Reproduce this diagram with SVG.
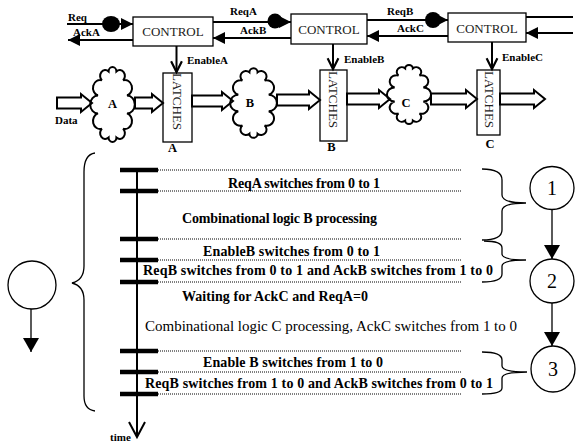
<svg xmlns="http://www.w3.org/2000/svg" width="577" height="448" viewBox="0 0 577 448">
<style>
.ln{stroke:#000;stroke-width:2;fill:none}
.thin{stroke:#000;stroke-width:1.3;fill:none}
.box{fill:#fff;stroke:#000;stroke-width:1.3}
.fat{fill:none;stroke:#000;stroke-width:2;stroke-linejoin:miter}
.bar{stroke:#000;stroke-width:4.5}
.dot{stroke:#000;stroke-width:1;stroke-dasharray:1 1;fill:none}
.lbl{font-family:"Liberation Serif","Times New Roman",serif;font-weight:bold;font-size:11px;fill:#000}
.big{font-family:"Liberation Serif","Times New Roman",serif;font-weight:bold;font-size:12.5px;fill:#000}
.ctl{font-family:"Liberation Serif","Times New Roman",serif;font-size:13px;fill:#222}
.t{font-family:"Liberation Serif","Times New Roman",serif;font-weight:bold;font-size:14px;fill:#000}
.tr{font-family:"Liberation Serif","Times New Roman",serif;font-size:15px;fill:#000}
.num{font-family:"Liberation Serif","Times New Roman",serif;font-size:20px;fill:#000;text-anchor:middle}
.cl{fill:none;stroke:#000;stroke-width:2}
</style>
<defs>
<marker id="tri" markerUnits="userSpaceOnUse" markerWidth="12" markerHeight="12" viewBox="0 0 11 11" refX="11" refY="5.5" orient="auto"><path d="M0,0 L11,5.5 L0,11 z" fill="#000"/></marker>
<marker id="triB" markerUnits="userSpaceOnUse" markerWidth="16" markerHeight="16" viewBox="0 0 14 16" refX="14" refY="8" orient="auto"><path d="M0,0 L14,8 L0,16 z" fill="#000"/></marker>
<marker id="vee" markerUnits="userSpaceOnUse" markerWidth="14" markerHeight="14" viewBox="-1 -1 13 13" refX="10" refY="5" orient="auto" overflow="visible"><path d="M0,0 L10,5 L0,10" fill="none" stroke="#000" stroke-width="2"/></marker>
<path id="cloud" vector-effect="non-scaling-stroke" d="M14.5,-7.8 A1,1 0 0 1 14.5,7.8 A1,1 0 0 1 10.6,21.2 A1,1 0 0 1 3.9,29 A1,1 0 0 1 -3.9,29 A1,1 0 0 1 -10.6,21.2 A1,1 0 0 1 -14.5,7.8 A1,1 0 0 1 -14.5,-7.8 A1,1 0 0 1 -10.6,-21.2 A1,1 0 0 1 -3.9,-29 A1,1 0 0 1 3.9,-29 A1,1 0 0 1 10.6,-21.2 A1,1 0 0 1 14.5,-7.8 Z"/>
</defs>
<rect width="577" height="448" fill="#fff"/>

<!-- control boxes -->
<g id="control1"><rect class="box" x="133" y="17" width="80" height="29"/><text class="ctl" x="173" y="35.5" text-anchor="middle">CONTROL</text></g>
<g id="control2"><rect class="box" x="291" y="14" width="76" height="30"/><text class="ctl" x="329" y="34" text-anchor="middle">CONTROL</text></g>
<g id="control3"><rect class="box" x="448" y="13" width="78" height="29"/><text class="ctl" x="487" y="32.5" text-anchor="middle">CONTROL</text></g>

<!-- latches -->
<g id="latchA"><rect class="box" x="163" y="73" width="29" height="69"/><text class="ctl" transform="translate(173,73) rotate(90)">LATCHES</text><text class="big" x="172.5" y="152" text-anchor="middle">A</text></g>
<g id="latchB"><rect class="box" x="320" y="70" width="27" height="71"/><text class="ctl" transform="translate(329,71) rotate(90)">LATCHES</text><text class="big" x="331.5" y="151" text-anchor="middle">B</text></g>
<g id="latchC"><rect class="box" x="477" y="70" width="23" height="65"/><text class="ctl" transform="translate(484.5,71) rotate(90)">LATCHES</text><text class="big" x="490" y="148" text-anchor="middle">C</text></g>

<!-- clouds -->
<g id="cloudA"><use href="#cloud" class="cl" transform="translate(112.5,104.5) scale(1.0,1.14)"/><text class="big" x="112.5" y="107.5" text-anchor="middle">A</text></g>
<g id="cloudB"><use href="#cloud" class="cl" transform="translate(253.5,103) scale(1.05,1.06)"/><text class="big" x="250" y="106.5" text-anchor="middle">B</text></g>
<g id="cloudC"><use href="#cloud" class="cl" transform="translate(409,94.5) scale(0.99,0.9)"/><text class="big" x="406" y="107" text-anchor="middle">C</text></g>

<!-- timeline states -->
<g id="state1"><ellipse cx="552" cy="188" rx="22" ry="21.5" fill="#fff" stroke="#000" stroke-width="1.3"/><text class="num" x="552" y="195">1</text></g>
<g id="state2"><ellipse cx="552" cy="281" rx="22" ry="22" fill="#fff" stroke="#000" stroke-width="1.3"/><text class="num" x="552" y="288">2</text></g>
<g id="state3"><ellipse cx="553" cy="369" rx="22" ry="23" fill="#fff" stroke="#000" stroke-width="1.3"/><text class="num" x="553" y="376">3</text></g>
<g id="stateLeft"><circle cx="32" cy="285" r="24" fill="#fff" stroke="#000" stroke-width="1.3"/></g>

<g id="connectors">
<!-- handshake lines -->
<line class="ln" x1="67" y1="24" x2="133" y2="24" marker-end="url(#tri)"/>
<ellipse cx="111" cy="24" rx="9" ry="8" fill="#000"/>
<line class="ln" x1="133" y1="40" x2="68" y2="40" marker-end="url(#tri)"/>
<line class="ln" x1="213" y1="22" x2="291" y2="22" marker-end="url(#tri)"/>
<circle cx="275" cy="21" r="7.5" fill="#000"/>
<line class="ln" x1="291" y1="38" x2="213" y2="38" marker-end="url(#tri)"/>
<line class="ln" x1="367" y1="20" x2="448" y2="20" marker-end="url(#tri)"/>
<circle cx="433" cy="20" r="8" fill="#000"/>
<line class="ln" x1="448" y1="36" x2="367" y2="36" marker-end="url(#tri)"/>
<line class="ln" x1="526" y1="17" x2="573" y2="17"/>
<line class="ln" x1="573" y1="33" x2="526" y2="33" marker-end="url(#tri)"/>
<!-- enables -->
<line class="ln" x1="176.5" y1="46" x2="176.5" y2="72" marker-end="url(#vee)"/>
<line class="ln" x1="333" y1="44" x2="333" y2="69" marker-end="url(#vee)"/>
<line class="ln" x1="492" y1="42" x2="492" y2="69" marker-end="url(#vee)"/>
<!-- fat data arrows -->
<path class="fat" d="M57,97.5 L81,97.5 L81,94 L92,103 L81,112 L81,108.5 L57,108.5 Z"/>
<path class="fat" d="M135,97.5 L152,97.5 L152,94 L163,103 L152,112 L152,108.5 L135,108.5 Z"/>
<path class="fat" d="M192,95.5 L222,95.5 L222,92 L233,101 L222,110 L222,106.5 L192,106.5 Z"/>
<path class="fat" d="M277,94.5 L309,94.5 L309,91 L320,100 L309,109 L309,105.5 L277,105.5 Z"/>
<path class="fat" d="M347,93.5 L379,93.5 L379,90 L390,99 L379,108 L379,104.5 L347,104.5 Z"/>
<path class="fat" d="M431,93.5 L466,93.5 L466,90 L477,99 L466,108 L466,104.5 L431,104.5 Z"/>
<path class="fat" d="M500,93.5 L534,93.5 L534,90 L545,99 L534,108 L534,104.5 L500,104.5 Z"/>
<!-- time axis -->
<line class="ln" x1="137" y1="170" x2="137" y2="436"/>
<polyline class="ln" points="129,422 137,437 145,422"/>
<line class="bar" x1="120" y1="170" x2="158" y2="170"/>
<line class="bar" x1="120" y1="191" x2="158" y2="191"/>
<line class="bar" x1="120" y1="239" x2="158" y2="239"/>
<line class="bar" x1="120" y1="260" x2="158" y2="260"/>
<line class="bar" x1="120" y1="282" x2="158" y2="282"/>
<line class="bar" x1="120" y1="351" x2="158" y2="351"/>
<line class="bar" x1="120" y1="372" x2="158" y2="372"/>
<line class="bar" x1="120" y1="394" x2="158" y2="394"/>
<line class="dot" x1="158" y1="170" x2="462" y2="170"/>
<line class="dot" x1="158" y1="191" x2="462" y2="191"/>
<line class="dot" x1="158" y1="239" x2="462" y2="239"/>
<line class="dot" x1="158" y1="260" x2="462" y2="260"/>
<line class="dot" x1="158" y1="282" x2="462" y2="282"/>
<line class="dot" x1="158" y1="351" x2="462" y2="351"/>
<line class="dot" x1="158" y1="372" x2="462" y2="372"/>
<line class="dot" x1="158" y1="394" x2="462" y2="394"/>
<!-- braces -->
<path class="thin" stroke-width="1.6" d="M482,169 C495,169 502,172 502,180 L502,195 C502,200 510,203 526,203 C510,203 502,206 502,211 L502,230 C502,237 495,240 482,240"/>
<path class="thin" stroke-width="1.6" d="M484,241 C496,241 502,243 502,248 L502,254 C502,258 510,260 526,260 C510,260 502,262 502,266 L502,274 C502,279 496,282 482,282"/>
<path class="thin" stroke-width="1.6" d="M482,352 C496,352 502,355 502,360 L502,366 C502,370 510,372 527,372 C510,372 502,374 502,378 L502,388 C502,392 496,394 482,394"/>
<path class="thin" stroke-width="1.6" d="M95,153 C88,154 84,160 84,172 L84,266 C84,276 80,281 72,283 C80,285 84,290 84,300 L84,396 C84,405 87,410 95,411"/>
<!-- state arrows -->
<line class="thin" x1="552" y1="209.5" x2="552" y2="259" marker-end="url(#triB)"/>
<line class="thin" x1="552" y1="303" x2="552" y2="346" marker-end="url(#triB)"/>
<line class="thin" x1="31" y1="309" x2="31" y2="352" marker-end="url(#triB)"/>
</g>

<!-- labels -->
<g id="labels">
<text class="lbl" x="68" y="21">Req</text>
<text class="lbl" x="73" y="36">AckA</text>
<text class="lbl" x="230" y="15">ReqA</text>
<text class="lbl" x="240" y="34">AckB</text>
<text class="lbl" x="387" y="15">ReqB</text>
<text class="lbl" x="397" y="32">AckC</text>
<text class="lbl" x="187" y="64">EnableA</text>
<text class="lbl" x="344" y="63">EnableB</text>
<text class="lbl" x="502" y="61">EnableC</text>
<text class="lbl" x="55" y="124">Data</text>
<text class="lbl" x="110" y="441">time</text>
<text class="t" x="228" y="188" textLength="152">ReqA switches from 0 to 1</text>
<text class="t" x="182" y="223" textLength="195">Combinational logic B processing</text>
<text class="t" x="203" y="256" textLength="177">EnableB switches from 0 to 1</text>
<text class="t" x="143" y="275" textLength="350">ReqB switches from 0 to 1 and AckB switches from 1 to 0</text>
<text class="t" x="182" y="301" textLength="186">Waiting for AckC and ReqA=0</text>
<text class="tr" x="145" y="331" textLength="372">Combinational logic C processing, AckC switches from 1 to 0</text>
<text class="t" x="203" y="367" textLength="180">Enable B switches from 1 to 0</text>
<text class="t" x="145" y="388" textLength="348">ReqB switches from 1 to 0 and AckB switches from 0 to 1</text>
</g>
</svg>
